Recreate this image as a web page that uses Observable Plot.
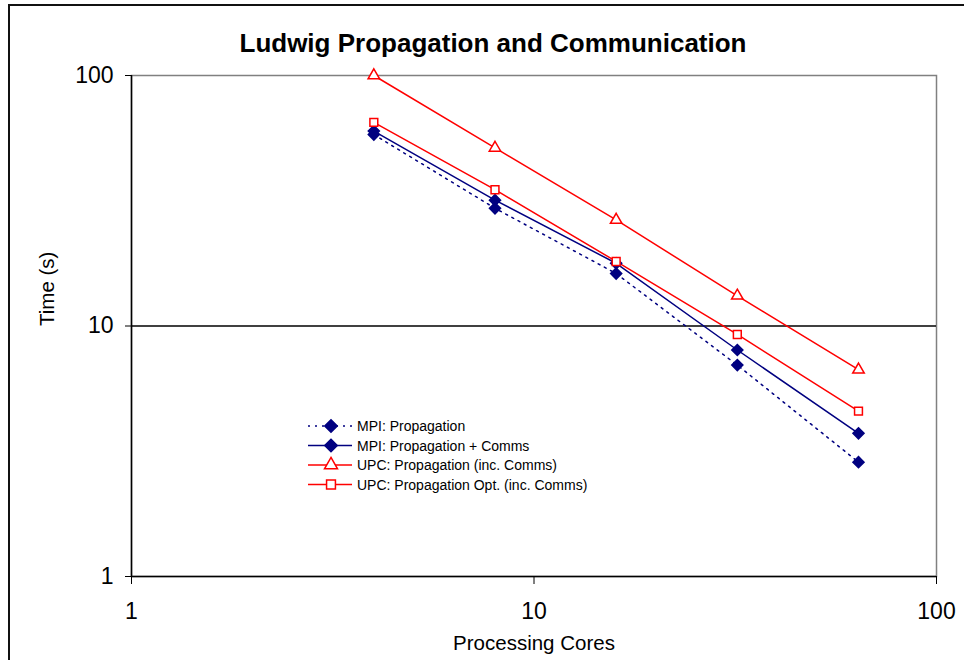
<!DOCTYPE html>
<html>
<head>
<meta charset="utf-8">
<script src="https://cdn.jsdelivr.net/npm/d3@7"></script>
<script src="https://cdn.jsdelivr.net/npm/@observablehq/plot@0.6"></script>
<style>
  body { margin: 0; background: #fff; font-family: "Liberation Sans", Arial, sans-serif; }
  #wrap { position: relative; width: 964px; height: 660px; overflow: hidden; }
  #frameL { position: absolute; left: 8px; top: 4px; width: 2px; height: 700px; background: #111; }
  #frameT { position: absolute; left: 8px; top: 4px; width: 1000px; height: 2px; background: #111; }
  #chart { position: absolute; left: 0; top: 0; }
  #legend { position: absolute; left: 300px; top: 414px; }
</style>
</head>
<body>
<div id="wrap">
  <div id="chart"></div>
  <div id="frameL"></div>
  <div id="frameT"></div>
  <div id="legend"></div>
</div>
<script>
const cores = [4, 8, 16, 32, 64];
const mpiProp = [58.1, 29.5, 16.2, 6.98, 2.86];
const mpiPropComms = [60.0, 31.8, 17.8, 8.02, 3.73];
const upcProp = [100, 51.4, 26.5, 13.2, 6.69];
const upcPropOpt = [65.0, 35.0, 18.1, 9.25, 4.57];
const seriesNames = [
  "MPI: Propagation",
  "MPI: Propagation + Comms",
  "UPC: Propagation (inc. Comms)",
  "UPC: Propagation Opt. (inc. Comms)"
];
const xTicks = [1, 10, 100];
const yTicks = [1, 10, 100];

const seriesValues = [mpiProp, mpiPropComms, upcProp, upcPropOpt];
const styles = [
  {color: "#000080", dash: "2,5", symbol: "diamond2", fill: "#000080", r: 5},
  {color: "#000080", dash: null, symbol: "diamond2", fill: "#000080", r: 5},
  {color: "#ff0000", dash: null, symbol: "triangle2", fill: "white", r: 5.5},
  {color: "#ff0000", dash: null, symbol: "square2", fill: "white", r: 5}
];
const data = seriesNames.flatMap((s, i) => cores.map((c, j) => ({series: s, idx: i, x: c, y: seriesValues[i][j]})));

const marks = [
  Plot.frame({stroke: "#808080", strokeWidth: 1.5}),
  Plot.ruleY([10], {stroke: "#000", strokeWidth: 1.3}),
  Plot.ruleY([1], {stroke: "#000", strokeWidth: 1.5}),
  Plot.ruleX([1], {stroke: "#000", strokeWidth: 1.5}),
  Plot.axisX({ticks: xTicks, tickFormat: d => String(d), tickSize: 8, tickPadding: 18, fontSize: 23, label: null, stroke: "#000"}),
  Plot.axisY({ticks: yTicks, tickFormat: d => String(d), tickSize: 6, tickPadding: 12, fontSize: 23, label: null}),
  Plot.text(["Processing Cores"], {frameAnchor: "bottom", lineAnchor: "middle", dy: 67, fontSize: 20.5, fill: "#000"}),
  Plot.text(["Time (s)"], {frameAnchor: "left", dx: -84, rotate: -90, fontSize: 20.5, fill: "#000"}),
  Plot.text(["Ludwig Propagation and Communication"], {frameAnchor: "top", lineAnchor: "middle", dy: -32, dx: -41, fontSize: 26, fontWeight: "bold", fill: "#000"})
];
styles.forEach((st, i) => {
  const d = data.filter(p => p.idx === i);
  marks.push(Plot.line(d, {x: "x", y: "y", stroke: st.color, strokeWidth: 1.5, strokeDasharray: st.dash ?? undefined}));
});
styles.forEach((st, i) => {
  const d = data.filter(p => p.idx === i);
  marks.push(Plot.dot(d, {x: "x", y: "y", symbol: () => st.symbol, r: st.r, stroke: st.color, fill: st.fill, strokeWidth: 1.5}));
});

const chart = Plot.plot({
  width: 964,
  height: 660,
  marginLeft: 131,
  marginRight: 28,
  marginTop: 75,
  marginBottom: 84,
  style: {fontFamily: "'Liberation Sans', Arial, sans-serif", color: "#000", background: "transparent"},
  x: {type: "log", domain: [1, 100]},
  y: {type: "log", domain: [1, 100]},
  marks
});
document.getElementById("chart").appendChild(chart);

// Legend
const lg = d3.select("#legend").append("svg").attr("width", 340).attr("height", 84)
  .style("font-family", "'Liberation Sans', Arial, sans-serif");
const symGen = {diamond2: d3.symbolDiamond2, triangle2: d3.symbolTriangle2, square2: d3.symbolSquare2};
seriesNames.forEach((name, i) => {
  const st = styles[i];
  const y = 12 + i * 19.5;
  const g = lg.append("g");
  g.append("line").attr("x1", 8).attr("x2", 52).attr("y1", y).attr("y2", y)
    .attr("stroke", st.color).attr("stroke-width", 1.5).attr("stroke-dasharray", st.dash);
  g.append("path").attr("transform", `translate(31,${y})`)
    .attr("d", d3.symbol(symGen[st.symbol], st.r * st.r * 4)())
    .attr("fill", st.fill).attr("stroke", st.color).attr("stroke-width", 1.5);
  g.append("text").attr("x", 57).attr("y", y + 5).attr("font-size", 14).attr("fill", "#000").text(name);
});
</script>
</body>
</html>
